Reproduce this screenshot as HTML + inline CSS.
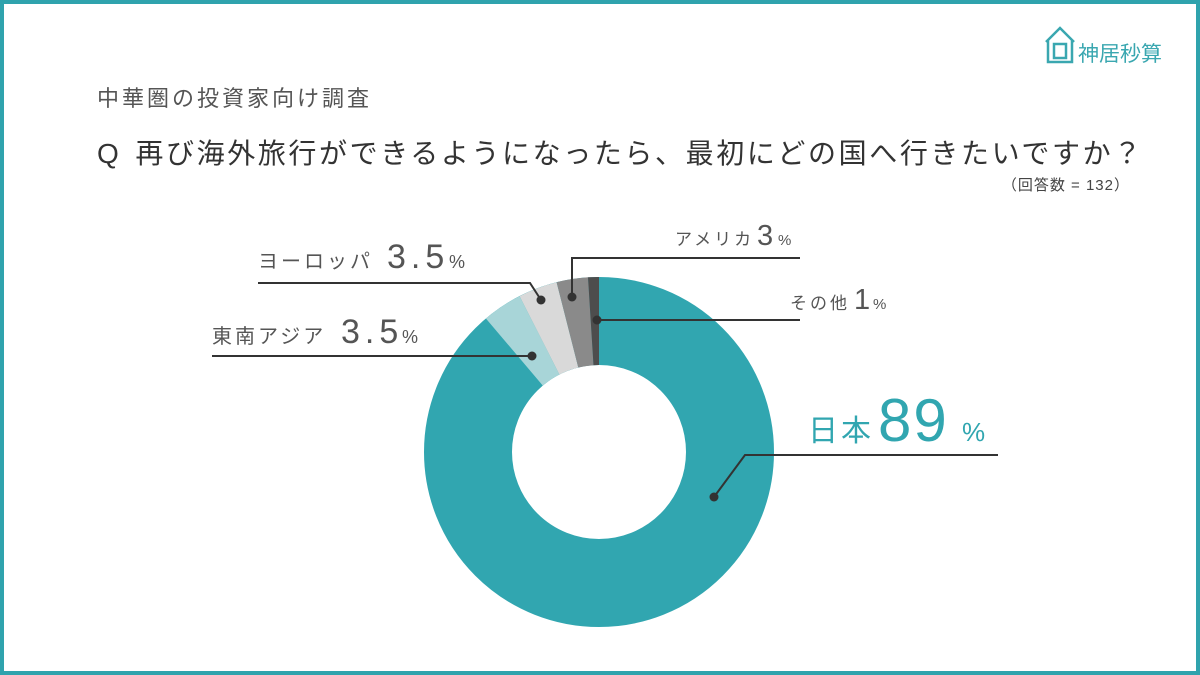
<!DOCTYPE html>
<html><head><meta charset="utf-8"><style>
body{margin:0;width:1200px;height:675px;overflow:hidden;background:#fff;font-family:"Liberation Sans","Noto Sans CJK JP",sans-serif}
</style></head><body>
<svg width="1200" height="675" viewBox="0 0 1200 675" xmlns="http://www.w3.org/2000/svg" style="position:absolute;left:0;top:0">
<rect x="2" y="2" width="1196" height="671" fill="#fff" stroke="#2fa3ad" stroke-width="4"/>
<g fill="none" stroke="#3aa7b0" stroke-width="2.5">
<path d="M1046 42 L1060 28 L1074 42 M1048 40 V62 H1072 V40"/>
<rect x="1054" y="44" width="12" height="14"/>
</g>
<text x="1078" y="61" font-size="21" fill="#3aa7b0" font-family="Liberation Sans,Noto Sans CJK JP,sans-serif">神居秒算</text>
<text x="97" y="106" font-size="22" letter-spacing="3" fill="#555" font-family="Liberation Sans,Noto Sans CJK JP,sans-serif">中華圏の投資家向け調査</text>
<text x="97" y="163" font-size="28" fill="#333" letter-spacing="2.6" font-family="Liberation Sans,Noto Sans CJK JP,sans-serif">Q<tspan dx="14">再び海外旅行ができるようになったら、最初にどの国へ行きたいですか？</tspan></text>
<text x="1130" y="190" font-size="15" fill="#444" text-anchor="end" letter-spacing="1" font-family="Liberation Sans,Noto Sans CJK JP,sans-serif">（回答数 = 132）</text>
<circle cx="599" cy="452" r="131" fill="none" stroke="#31a6b0" stroke-width="88"/>
<g>
<path d="M485.9 318.5 A175 175 0 0 1 519.6 296.1 L559.4 374.5 A87 87 0 0 0 542.8 385.6 Z" fill="#a8d5d8"/>
<path d="M519.6 296.1 A175 175 0 0 1 556.6 282.2 L578.3 367.5 A87 87 0 0 0 559.4 374.5 Z" fill="#d9d9d9"/>
<path d="M556.6 282.2 A175 175 0 0 1 588.0 277.3 L593.5 365.2 A87 87 0 0 0 578.3 367.5 Z" fill="#8a8a8a"/>
<path d="M588.0 277.3 A175 175 0 0 1 599 277 L599 365 A87 87 0 0 0 593.5 365.2 Z" fill="#4d4d4d"/>
</g>
<g stroke="#333" stroke-width="2" fill="none">
<polyline points="714,497 745,455 998,455"/>
<polyline points="597,320 800,320"/>
<polyline points="572,297 572,258 800,258"/>
<polyline points="541,300 530,283 258,283"/>
<polyline points="532,356 212,356"/>
</g>
<g fill="#333">
<circle cx="714" cy="497" r="4.5"/><circle cx="597" cy="320" r="4.5"/><circle cx="572" cy="297" r="4.5"/><circle cx="541" cy="300" r="4.5"/><circle cx="532" cy="356" r="4.5"/>
</g>
<g font-family="Liberation Sans,Noto Sans CJK JP,sans-serif" fill="#555">
<text x="808" y="441" font-size="30" fill="#31a6b0" letter-spacing="3">日本<tspan x="878" font-size="60" letter-spacing="2">89</tspan><tspan x="962" font-size="26">%</tspan></text>
<text x="212" y="343" font-size="20" letter-spacing="3">東南アジア<tspan x="341" font-size="34" letter-spacing="5">3.5</tspan><tspan x="402" font-size="18">%</tspan></text>
<text x="258" y="268" font-size="20" letter-spacing="3">ヨーロッパ<tspan x="387" font-size="34" letter-spacing="5">3.5</tspan><tspan x="449" font-size="18">%</tspan></text>
<text x="675" y="245" font-size="17" letter-spacing="3">アメリカ<tspan x="757" font-size="29">3</tspan><tspan x="778" font-size="15">%</tspan></text>
<text x="790" y="309" font-size="17" letter-spacing="3">その他<tspan x="854" font-size="29">1</tspan><tspan x="873" font-size="15">%</tspan></text>
</g>
</svg>
</body></html>
